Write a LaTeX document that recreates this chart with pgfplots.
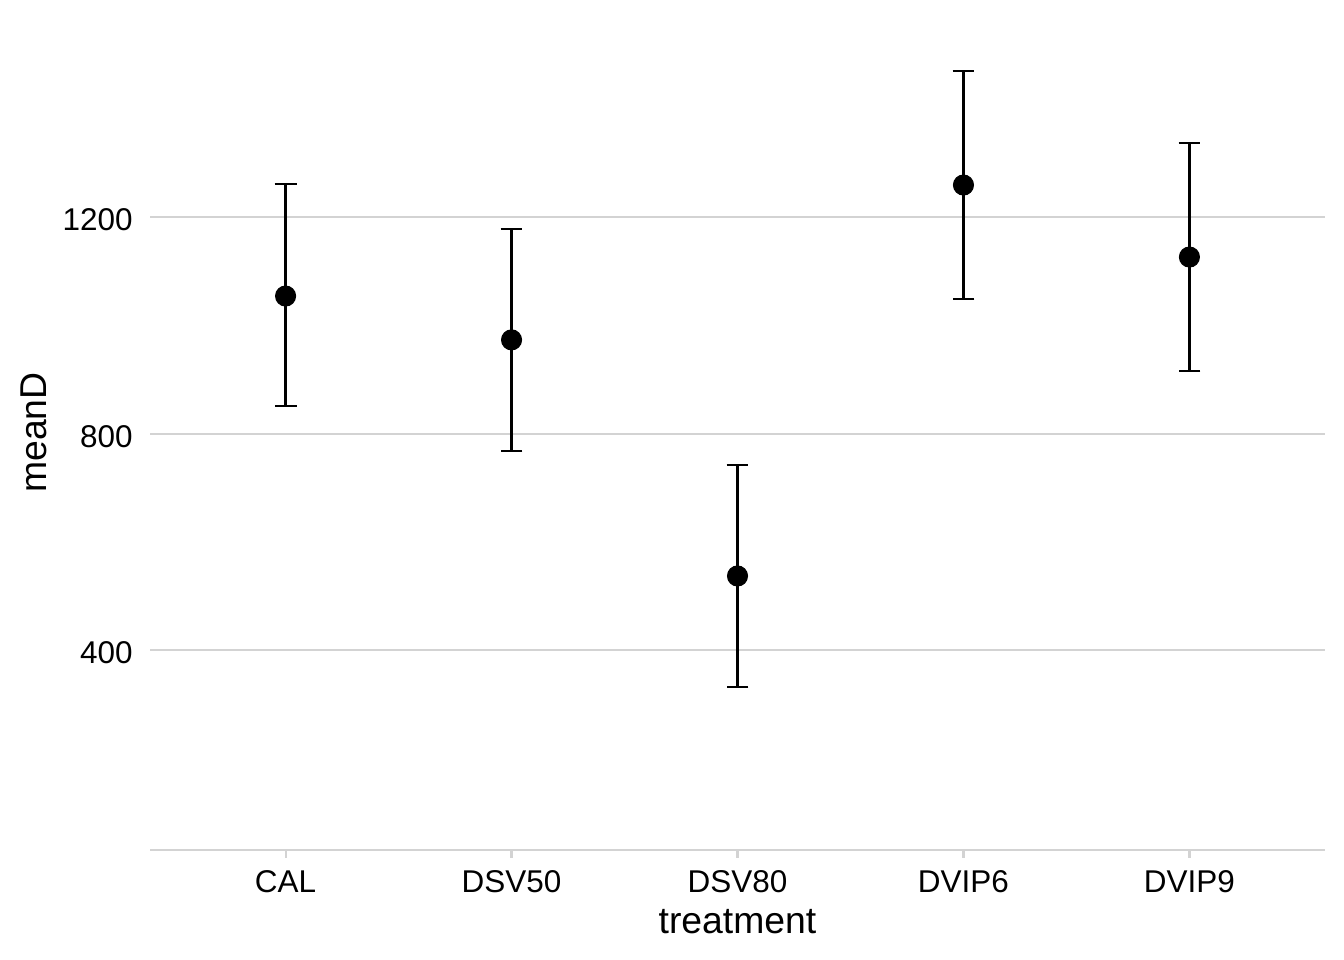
\documentclass[border=0pt]{standalone}
\usepackage{pgfplots}
\pgfplotsset{compat=1.18}
\usepackage{fontspec}
\setmainfont{Liberation Sans}
\definecolor{gridgray}{HTML}{D3D3D3}

\begin{document}
\begin{tikzpicture}
\begin{axis}[
    scale only axis,
    width=440.6pt,
    height=313.1pt,
    xmin=0.4, xmax=5.6,
    ymin=31, ymax=1573,
    xtick={1,2,3,4,5},
    xticklabels={CAL,DSV50,DSV80,DVIP6,DVIP9},
    ytick={400,800,1200},
    axis x line*=bottom,
    axis y line*=left,
    x axis line style={gridgray, line width=0.8pt, -},
    y axis line style={draw=none},
    ymajorgrids,
    grid style={gridgray, line width=0.8pt},
    xtick style={gridgray, line width=0.8pt},
    ytick style={draw=none},
    major tick length=3pt,
    tick align=outside,
    ticklabel style={font=\fontsize{11.8}{13}\selectfont, text=black},
    /pgf/number format/assume math mode=true,
    /pgf/number format/1000 sep={},
    yticklabel style={anchor=east, xshift=0pt, yshift=-1pt},
    xticklabel style={anchor=north, yshift=-1.2pt},
    xlabel={treatment},
    ylabel={meanD},
    label style={font=\fontsize{14}{16}\selectfont},
    xlabel style={yshift=0.8pt},
    ylabel style={yshift=-1pt},
    clip=false,
]
\addplot[
    only marks,
    mark=*,
    mark size=3.75pt,
    mark options={black, fill=black},
    error bars/.cd,
        y dir=both, y explicit,
        error bar style={black, line width=0.9pt},
        error mark options={rotate=90, mark size=4.1pt, line width=0.9pt, black},
] table[x=x, y=y, y error plus=ep, y error minus=em] {
x y ep em
1 1054 207 203
2 973 205 205
3 537 205 205
4 1259 211 210
5 1126 211 210
};
\end{axis}
\useasboundingbox ([xshift=-56.25pt,yshift=-41.25pt]current axis.south west) rectangle ([xshift=7.125pt,yshift=5.625pt]current axis.north east);
\end{tikzpicture}
\end{document}
